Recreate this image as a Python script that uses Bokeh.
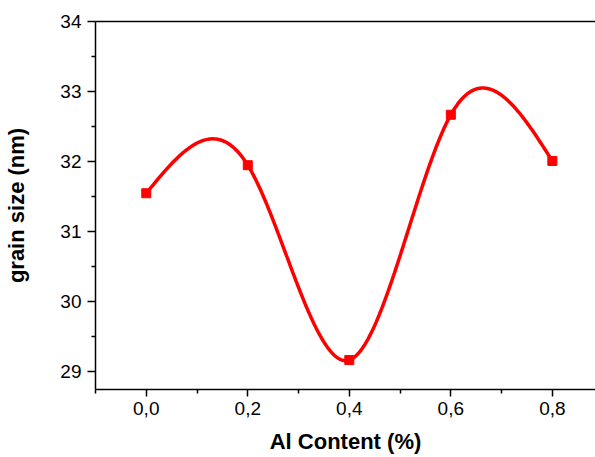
import numpy as np
from bokeh.plotting import figure
from bokeh.models import Range1d, FixedTicker, CustomJSTickFormatter, LinearAxis
from bokeh.embed import file_html
from bokeh.resources import INLINE

# Data
al_content = [0.0, 0.2, 0.4, 0.6, 0.8]
grain_size = [31.55, 31.95, 29.17, 32.67, 32.01]
x_ticks = [0.0, 0.2, 0.4, 0.6, 0.8]
x_minor = [-0.1, 0.1, 0.3, 0.5, 0.7]
y_ticks = [29, 30, 31, 32, 33, 34]
y_minor = [29.5, 30.5, 31.5, 32.5, 33.5]


def natural_spline(xs, ys, n=400):
    xs = np.asarray(xs, float)
    ys = np.asarray(ys, float)
    k = len(xs)
    h = np.diff(xs)
    A = np.zeros((k, k))
    b = np.zeros(k)
    A[0, 0] = 1
    A[-1, -1] = 1
    for i in range(1, k - 1):
        A[i, i - 1] = h[i - 1]
        A[i, i] = 2 * (h[i - 1] + h[i])
        A[i, i + 1] = h[i]
        b[i] = 6 * ((ys[i + 1] - ys[i]) / h[i] - (ys[i] - ys[i - 1]) / h[i - 1])
    M = np.linalg.solve(A, b)
    xx = np.linspace(xs[0], xs[-1], n)
    yy = np.empty_like(xx)
    for j, x in enumerate(xx):
        i = min(np.searchsorted(xs, x, side="right") - 1, k - 2)
        i = max(i, 0)
        hi = h[i]
        a = xs[i + 1] - x
        c = x - xs[i]
        yy[j] = (M[i] * a ** 3 / (6 * hi) + M[i + 1] * c ** 3 / (6 * hi)
                 + (ys[i] / hi - M[i] * hi / 6) * a
                 + (ys[i + 1] / hi - M[i + 1] * hi / 6) * c)
    return xx, yy


sx, sy = natural_spline(al_content, grain_size)

p = figure(width=595, height=457, output_backend="svg", toolbar_location=None,
           x_range=Range1d(-0.1, 0.885), y_range=Range1d(28.75, 34.0),
           min_border_left=95, min_border_right=0, min_border_top=21,
           min_border_bottom=68)
p.outline_line_color = None
p.xgrid.visible = False
p.ygrid.visible = False
p.background_fill_color = "white"
p.border_fill_color = "white"

p.line(sx, sy, line_color="#ff0000", line_width=3.5)
p.scatter(al_content, grain_size, marker="square", size=9,
          fill_color="#ff0000", line_color="#ff0000")

font = "Liberation Sans"
for ax in (p.xaxis[0], p.yaxis[0]):
    ax.axis_line_width = 1.5
    ax.axis_line_color = "black"
    ax.major_tick_line_width = 1.5
    ax.minor_tick_line_width = 1.5
    ax.major_tick_in = 0
    ax.minor_tick_in = 0
    ax.major_label_text_font = font
    ax.major_label_text_font_size = "19px"
    ax.major_label_text_color = "black"
    ax.axis_label_text_font = font
    ax.axis_label_text_font_style = "bold"
    ax.axis_label_text_font_size = "22px"
    ax.axis_label_text_color = "black"

p.xaxis[0].ticker = FixedTicker(ticks=x_ticks, minor_ticks=x_minor)
p.xaxis[0].major_tick_out = 7
p.xaxis[0].minor_tick_out = 4
p.xaxis[0].major_label_standoff = 5
p.xaxis[0].axis_label = "Al Content (%)"
p.xaxis[0].axis_label_standoff = 11
p.xaxis[0].formatter = CustomJSTickFormatter(
    code="return tick.toFixed(1).replace('.', ',');")

p.yaxis[0].ticker = FixedTicker(ticks=y_ticks, minor_ticks=y_minor)
p.yaxis[0].major_tick_out = 8
p.yaxis[0].minor_tick_out = 4
p.yaxis[0].major_label_standoff = 6
p.yaxis[0].axis_label = "grain size (nm)"
p.yaxis[0].axis_label_standoff = 28

top = LinearAxis(ticker=FixedTicker(ticks=[]), major_tick_line_color=None,
                 minor_tick_line_color=None, major_label_text_font_size="0px",
                 axis_line_width=1.5, axis_line_color="black")
p.add_layout(top, "above")

open("out.html", "w").write(file_html(p, INLINE))
